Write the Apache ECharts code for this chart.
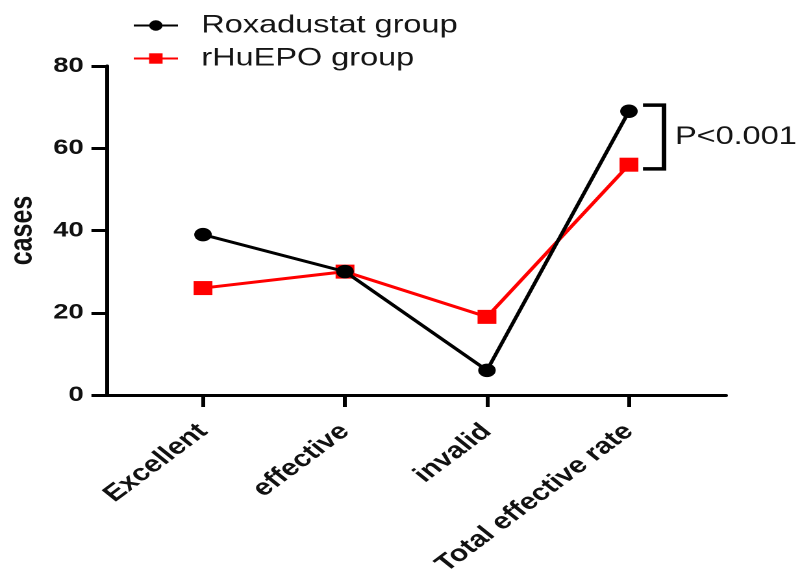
<!DOCTYPE html>
<html>
<head>
<meta charset="utf-8">
<script src="https://cdn.jsdelivr.net/npm/echarts@6/dist/echarts.min.js"></script>
<style>
html, body { margin: 0; padding: 0; background: #fff; overflow: hidden; width: 800px; height: 583px; }
/* The figure is drawn at a narrower width and widened to 800px, giving its wide lettering */
#chart { width: 616px; height: 583px; transform: scaleX(1.2987); transform-origin: 0 0; }
</style>
</head>
<body>
<div id="chart"></div>
<script>
// Outcome categories and case counts per group
const categories = ['Excellent', 'effective', 'invalid', 'Total effective rate'];
const roxadustat = [39, 30, 6, 69];
const rhuepo = [26, 30, 19, 56];
const yMin = 0;
const yMax = 80;
const yStep = 20;
// Significance bracket: category index, upper value, lower value
const pBracket = [3, 70.5, 55];
const pLabel = 'P<0.001';

const font = '"Liberation Sans", Arial, Helvetica, sans-serif';
const chart = echarts.init(document.getElementById('chart'), null, { renderer: 'canvas', devicePixelRatio: 2 });

const option = {
  animation: false,
  backgroundColor: '#fff',
  textStyle: { fontFamily: font },
  legend: {
    orient: 'vertical',
    left: 97,
    top: 8,
    itemGap: 8,
    itemWidth: 34,
    itemHeight: 13,
    data: ['Roxadustat group', 'rHuEPO group'],
    textStyle: { fontSize: 25, color: '#151515', fontFamily: font, padding: [0, 0, 0, 13] }
  },
  grid: [
    { left: 82.4, right: 57, top: 66, bottom: 188, outerBoundsMode: 'none' },
    { left: 101.65, right: 77.05, top: 66, bottom: 188, outerBoundsMode: 'none' }
  ],
  xAxis: [
    {
      gridIndex: 0, type: 'value', min: 0, max: 1,
      axisLine: { show: true, onZero: false, lineStyle: { color: '#000', width: 3 } },
      axisTick: { show: false }, axisLabel: { show: false }, splitLine: { show: false }
    },
    {
      gridIndex: 1, type: 'category', data: categories, boundaryGap: true,
      axisLine: { show: false },
      axisTick: { show: true, alignWithLabel: true, length: 12, lineStyle: { color: '#000', width: 3 } },
      axisLabel: { rotate: 44, interval: 0, margin: 33, fontSize: 23, fontWeight: 'bold', color: '#111', fontFamily: font }
    }
  ],
  yAxis: [
    {
      gridIndex: 0, type: 'value', min: yMin, max: yMax, interval: yStep,
      name: 'cases', nameLocation: 'middle', nameGap: 46, nameRotate: 90,
      nameTextStyle: { fontSize: 25, fontWeight: 'bold', color: '#111', fontFamily: font },
      axisLine: { show: true, lineStyle: { color: '#000', width: 3 } },
      axisTick: { show: true, length: 12, lineStyle: { color: '#000', width: 3 } },
      axisLabel: { margin: 18, fontSize: 21, fontWeight: 'bold', color: '#111', fontFamily: font },
      splitLine: { show: false }
    },
    { gridIndex: 1, type: 'value', min: yMin, max: yMax, interval: yStep, show: false }
  ],
  series: [
    {
      name: 'Roxadustat group', type: 'line', xAxisIndex: 1, yAxisIndex: 1,
      data: roxadustat,
      symbol: 'circle', symbolSize: 13.5,
      lineStyle: { color: '#000', width: 3 },
      itemStyle: { color: '#000' },
      z: 3
    },
    {
      name: 'rHuEPO group', type: 'line', xAxisIndex: 1, yAxisIndex: 1,
      data: rhuepo,
      symbol: 'rect', symbolSize: [14.5, 14],
      lineStyle: { color: '#ff0000', width: 3 },
      itemStyle: { color: '#ff0000' },
      z: 2
    },
    {
      type: 'custom', xAxisIndex: 1, yAxisIndex: 1,
      data: [pBracket],
      silent: true,
      renderItem: function (params, api) {
        const top = api.coord([api.value(0), api.value(1)]);
        const bot = api.coord([api.value(0), api.value(2)]);
        const x0 = top[0] + 10.8;
        const x1 = top[0] + 27;
        return {
          type: 'group',
          children: [
            {
              type: 'polyline',
              shape: { points: [[x0, top[1]], [x1, top[1]], [x1, bot[1]], [x0, bot[1]]] },
              style: { stroke: '#000', lineWidth: 3.5, fill: null }
            },
            {
              type: 'text',
              style: {
                text: pLabel, x: x1 + 8.4, y: (top[1] + bot[1]) / 2,
                verticalAlign: 'middle', align: 'left',
                fontSize: 25, fontFamily: font, fill: '#151515'
              }
            }
          ]
        };
      }
    }
  ]
};

chart.setOption(option);
</script>
</body>
</html>
